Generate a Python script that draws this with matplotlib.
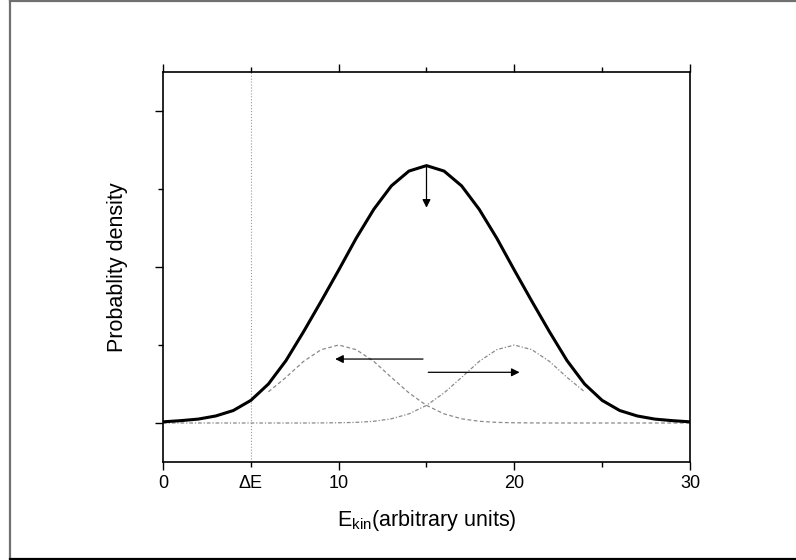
import matplotlib
matplotlib.use("Agg")
import matplotlib.pyplot as plt
from matplotlib.lines import Line2D
from matplotlib.ticker import FixedLocator

# --- Config ---
plt.rcParams['font.family'] = ['Liberation Sans', 'DejaVu Sans']
plt.rcParams['mathtext.fontset'] = 'custom'
plt.rcParams['mathtext.rm'] = 'Liberation Sans'
plt.rcParams['mathtext.it'] = 'Liberation Sans:italic'

# --- Data ---
main_x = list(range(0, 31))
main_y = [0.0015, 0.003, 0.005, 0.009, 0.016, 0.029, 0.050, 0.080, 0.117,
          0.156, 0.196, 0.237, 0.274, 0.304, 0.323, 0.330, 0.323, 0.304,
          0.274, 0.237, 0.196, 0.156, 0.117, 0.080, 0.050, 0.029, 0.016,
          0.009, 0.005, 0.003, 0.0015]

left_x = list(range(6, 31))
left_y = [0.0400, 0.0585, 0.079, 0.094, 0.100, 0.094, 0.079, 0.0585, 0.0386,
          0.0226, 0.0117, 0.0054, 0.0022, 0.0008, 0.0003, 0.0001, 0.0, 0.0,
          0.0, 0.0, 0.0, 0.0, 0.0, 0.0, 0.0]

right_x = list(range(0, 25))
right_y = left_y[::-1]

delta_e = 5
x_ticks = [0, 5, 10, 20, 30]
x_tick_labels = ['0', '\u0394E', '10', '20', '30']

# --- Figure ---
fig = plt.figure(figsize=(7.96, 5.6), dpi=100)
ax = fig.add_axes([0.2048, 0.175, 0.662, 0.6964])

ax.plot(main_x, main_y, color='black', lw=2.2, zorder=3)
ax.plot(left_x, left_y, color='#8a8a8a', lw=0.9, ls=(0, (3, 2)), zorder=2)
ax.plot(right_x, right_y, color='#8a8a8a', lw=0.9, ls=(0, (3, 1.5, 1, 1.5)), zorder=2)
ax.axvline(delta_e, color='#9a9a9a', lw=0.8, ls=':', zorder=1)

arrow = dict(arrowstyle='-|>', color='black', lw=0.9, mutation_scale=12, shrinkA=0, shrinkB=0)
ax.annotate('', xy=(15, 0.276), xytext=(15, 0.330), arrowprops=arrow)
ax.annotate('', xy=(9.8, 0.082), xytext=(14.8, 0.082), arrowprops=arrow)
ax.annotate('', xy=(20.3, 0.065), xytext=(15.1, 0.065), arrowprops=arrow)

ax.set_xlim(0, 30)
ax.set_ylim(-0.05, 0.45)

ax.set_xticks(x_ticks)
ax.set_xticklabels(x_tick_labels, fontsize=13)
ax.xaxis.set_minor_locator(FixedLocator([15, 25]))
ax.set_yticks([0, 0.2, 0.4])
ax.set_yticklabels([])
ax.yaxis.set_minor_locator(FixedLocator([0.1, 0.3]))

ax.tick_params(axis='both', which='both', direction='out', width=1.0)
ax.tick_params(axis='x', which='both', top=True, labeltop=False)
ax.tick_params(axis='y', which='both', right=False)
ax.tick_params(which='major', length=6)
ax.tick_params(which='minor', length=3.5)
ax.tick_params(axis='x', which='major', pad=3)
# the tick at delta E is drawn short like the minor ones
for tick in ax.xaxis.get_major_ticks():
    if tick.get_loc() == delta_e:
        tick.tick1line.set_markersize(3.5)
        tick.tick2line.set_markersize(3.5)

for sp in ax.spines.values():
    sp.set_linewidth(1.2)

ax.set_xlabel(r'E$_{\mathrm{kin}}$(arbitrary units)', fontsize=15.5, labelpad=12)
ax.set_ylabel('Probablity density', fontsize=15.5, labelpad=16)

# --- Frame around the figure ---
fig.add_artist(Line2D([9.5 / 796, 9.5 / 796], [0, 1], color='#707070', lw=1.6))
fig.add_artist(Line2D([9.5 / 796, 1], [1 - 1 / 560, 1 - 1 / 560], color='#707070', lw=1.6))
fig.add_artist(Line2D([9.5 / 796, 1], [1 / 560, 1 / 560], color='black', lw=1.6))

fig.savefig('out.png', dpi=100)
